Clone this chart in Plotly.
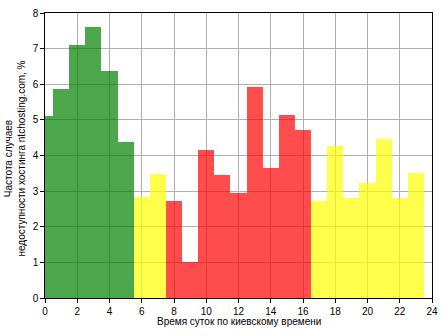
import plotly.graph_objects as go

# Hour of day (Kyiv time) and outage frequency per hour, %
hours = list(range(24))
freq = [5.12, 5.87, 7.11, 7.62, 6.38, 4.39, 2.84, 3.49, 2.73, 1.02,
        4.16, 3.46, 2.96, 5.93, 3.66, 5.15, 4.72, 2.73, 4.28, 2.80,
        3.24, 4.47, 2.80, 3.52]
# Period of day for each hour: night, shoulder, peak
period = ["night"] * 6 + ["shoulder"] * 2 + ["peak"] * 9 + ["shoulder"] * 7
period_colors = {"night": "green", "shoulder": "yellow", "peak": "red"}

x_ticks = list(range(0, 25, 2))
y_ticks = list(range(0, 9))

x_title = "Время суток по киевскому времени"
y_title = "Частота случаев<br>недоступности хостинга ntchosting.com, %"

FONT = "Liberation Sans, Arial"

fig = go.Figure(
    go.Bar(
        x=hours,
        y=freq,
        width=1,
        marker=dict(color=[period_colors[p] for p in period], opacity=0.7,
                    line=dict(width=0)),
        showlegend=False,
    )
)

axis_common = dict(
    showline=True, linecolor="black", linewidth=1.2, mirror=True,
    showgrid=True, gridcolor="#b0b0b0", gridwidth=1,
    ticks="outside", ticklen=3.5, tickcolor="black", tickwidth=1,
    tickfont=dict(family=FONT, size=10, color="black"),
    zeroline=False, automargin=False,
)

fig.update_layout(
    width=448, height=336,
    margin=dict(l=45, r=16, t=13, b=38),
    paper_bgcolor="white", plot_bgcolor="white",
    bargap=0,
    font=dict(family=FONT, size=10, color="black"),
    xaxis=dict(axis_common, range=[0, 24], tickvals=x_ticks),
    yaxis=dict(axis_common, range=[0, 8], tickvals=y_ticks),
    annotations=[
        dict(text=x_title, xref="paper", yref="paper", x=0.5, y=0,
             xanchor="center", yanchor="middle", yshift=-23,
             showarrow=False, font=dict(family=FONT, size=10, color="black")),
        dict(text=y_title, xref="paper", yref="paper", x=0, y=0.5,
             xanchor="center", yanchor="middle", xshift=-31, yshift=-3,
             textangle=-90, showarrow=False,
             font=dict(family=FONT, size=10, color="black")),
    ],
)

fig.write_html("out.html")
